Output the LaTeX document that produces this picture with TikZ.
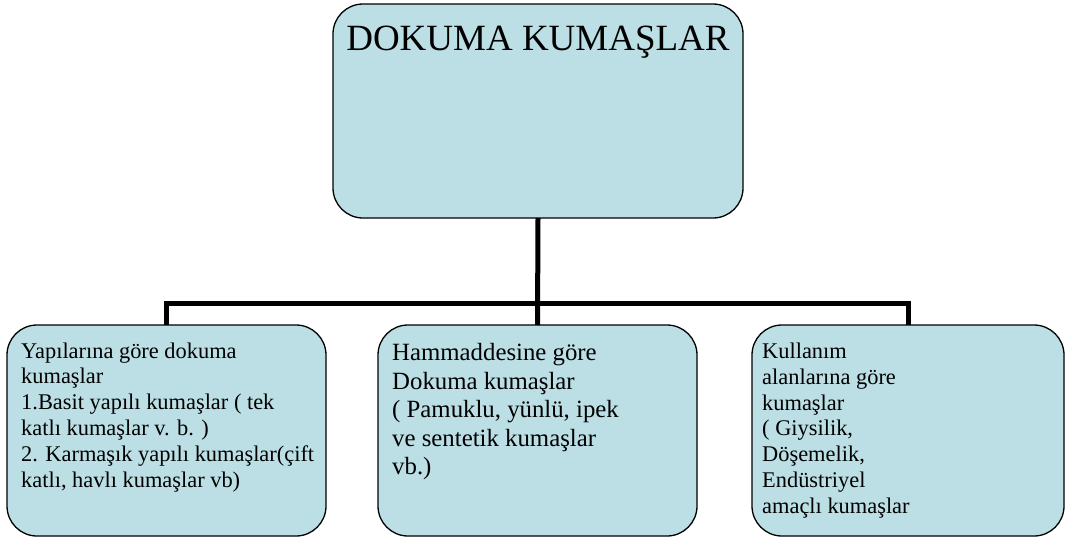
\documentclass[tikz,border=0pt]{standalone}
\usepackage{fontspec}
\setmainfont{Liberation Serif}
\definecolor{boxfill}{RGB}{187,223,229}
\begin{document}
\begin{tikzpicture}[x=1pt,y=-1pt,
  boxstyle/.style={draw=black,line width=1.3pt,fill=boxfill,rounded corners=30pt,
    rectangle,inner sep=0pt,outer sep=0pt},
  bodytext/.style={anchor=north west,inner sep=0pt,align=left,
    font=\fontsize{22.4}{25.8}\selectfont},
  bigtext/.style={anchor=north west,inner sep=0pt,align=left,
    font=\fontsize{24.8}{28.5}\selectfont},
  wire/.style={line width=5pt,black}]
\useasboundingbox (0,0) rectangle (1065,538);
% boxes
\node[boxstyle,minimum width=410pt,minimum height=214pt] (top) at (538,111) {};
\node[boxstyle,minimum width=319pt,minimum height=211pt] (left) at (166.5,430.5) {};
\node[boxstyle,minimum width=319pt,minimum height=211pt] (mid) at (537.5,430.5) {};
\node[boxstyle,minimum width=312pt,minimum height=211pt] (right) at (908,430.5) {};
% connectors
\coordinate (bus) at (538,303);
\draw[wire] (top.south) -- (mid.north);
\draw[wire] (left.north) -- (left.north |- bus) -- (right.north |- bus) -- (right.north);
% texts
\node[anchor=base,inner sep=0pt,font=\fontsize{37}{42}\selectfont] (toptext) at (538,50) {DOKUMA KUMAŞLAR};
\node[bodytext] (lefttext) at (21,342.4) {Yapılarına göre dokuma\\kumaşlar\\1.Basit yapılı kumaşlar ( tek\\katlı kumaşlar v. b. )\\2. Karmaşık yapılı kumaşlar(çift\\katlı, havlı kumaşlar vb)};
\node[bigtext] (midtext) at (392,343.1) {Hammaddesine göre\\Dokuma kumaşlar\\( Pamuklu, yünlü, ipek\\ve sentetik kumaşlar\\vb.)};
\node[bodytext] (righttext) at (762,342.7) {Kullanım\\alanlarına göre\\kumaşlar\\( Giysilik,\\Döşemelik,\\Endüstriyel\\amaçlı kumaşlar};
\end{tikzpicture}
\end{document}
